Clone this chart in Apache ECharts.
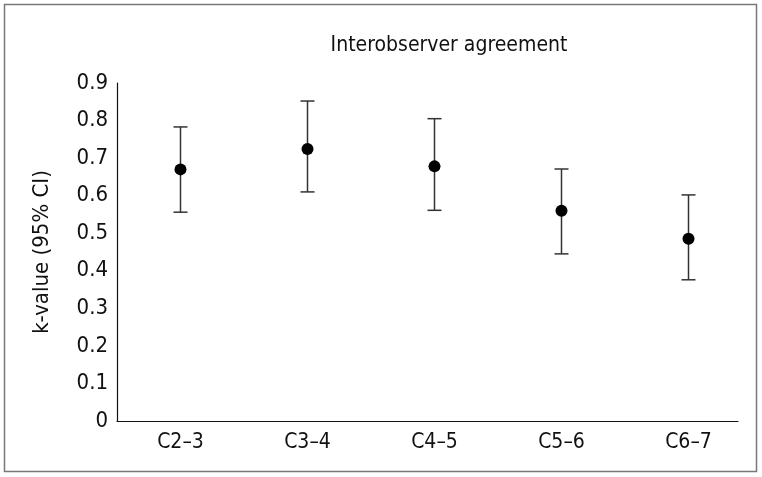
<!DOCTYPE html>
<html>
<head>
<meta charset="utf-8">
<script src="https://cdn.jsdelivr.net/npm/echarts@6/dist/echarts.min.js"></script>
<style>html,body{margin:0;padding:0;background:#fff}#c{width:762px;height:477px}</style>
</head>
<body>
<div id="c"></div>
<script>
const categories = ['C2–3', 'C3–4', 'C4–5', 'C5–6', 'C6–7'];
const kValues = [0.670, 0.724, 0.678, 0.560, 0.485];
const ciLower = [0.556, 0.610, 0.561, 0.445, 0.376];
const ciUpper = [0.783, 0.852, 0.805, 0.671, 0.602];
const yTicks = [0, 0.1, 0.2, 0.3, 0.4, 0.5, 0.6, 0.7, 0.8, 0.9];

const FONT = 'DejaVu Sans Condensed';
const chart = echarts.init(document.getElementById('c'), null, {renderer: 'canvas'});
const errData = categories.map((c, i) => [i, ciLower[i], ciUpper[i]]);

chart.setOption({
  animation: false,
  backgroundColor: '#fff',
  title: {
    text: 'Interobserver agreement',
    left: 444, top: 30, textAlign: 'center',
    textStyle: {fontFamily: FONT, fontSize: 21, fontWeight: 'normal', color: '#111'}
  },
  graphic: [{
    type: 'rect', shape: {x: 4.5, y: 4.5, width: 752, height: 467},
    style: {fill: 'none', stroke: '#777', lineWidth: 1.5}, silent: true
  }],
  grid: [
    {left: 117, top: 83, width: 621, height: 338},
    {left: 117, top: 83, width: 635, height: 338}
  ],
  xAxis: [
    {type: 'category', gridIndex: 0, data: categories,
     axisLine: {lineStyle: {color: '#111', width: 1.2}}, axisTick: {show: false}, axisLabel: {show: false}},
    {type: 'category', gridIndex: 1, data: categories, boundaryGap: true,
     axisLine: {show: false}, axisTick: {show: false},
     axisLabel: {fontFamily: FONT, fontSize: 21, color: '#111', margin: 11}}
  ],
  yAxis: [
    {type: 'value', gridIndex: 0, min: 0, max: 0.9, interval: 0.1,
     name: 'k-value (95% CI)', nameLocation: 'middle', nameGap: 64,
     nameTextStyle: {fontFamily: FONT, fontSize: 22, color: '#111'},
     axisLine: {show: true, lineStyle: {color: '#111', width: 1.2}}, axisTick: {show: false},
     splitLine: {show: false},
     axisLabel: {fontFamily: FONT, fontSize: 22, color: '#111', margin: 9,
       formatter: v => { const t = yTicks.find(x => Math.abs(x - v) < 1e-9); return t === 0 ? '0' : String(t); }}},
    {type: 'value', gridIndex: 1, min: 0, max: 0.9, interval: 0.1, show: false}
  ],
  series: [
    {
      type: 'custom', xAxisIndex: 1, yAxisIndex: 1, data: errData,
      renderItem: (params, api) => {
        const x = api.value(0);
        const lo = api.coord([x, api.value(1)]);
        const hi = api.coord([x, api.value(2)]);
        const hw = 7;
        const st = {stroke: '#333', lineWidth: 1.5};
        return {type: 'group', children: [
          {type: 'line', shape: {x1: lo[0], y1: lo[1], x2: hi[0], y2: hi[1]}, style: st},
          {type: 'line', shape: {x1: lo[0] - hw, y1: lo[1], x2: lo[0] + hw, y2: lo[1]}, style: st},
          {type: 'line', shape: {x1: hi[0] - hw, y1: hi[1], x2: hi[0] + hw, y2: hi[1]}, style: st}
        ]};
      },
      z: 2
    },
    {
      type: 'scatter', xAxisIndex: 1, yAxisIndex: 1, data: kValues,
      symbol: 'circle', symbolSize: 12, itemStyle: {color: '#000', opacity: 1}, z: 3
    }
  ]
});
</script>
</body>
</html>
